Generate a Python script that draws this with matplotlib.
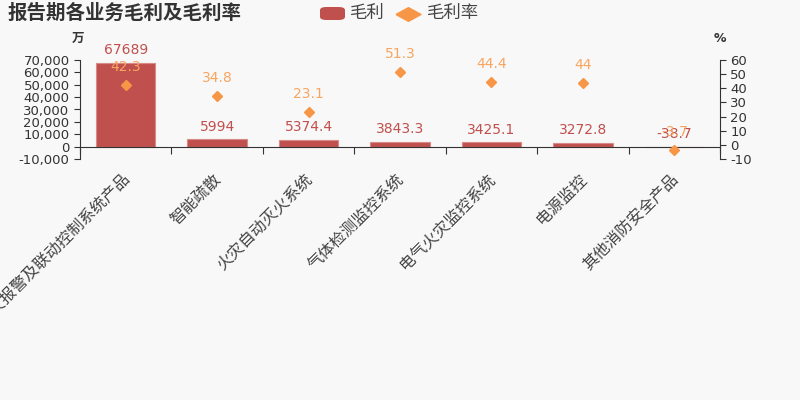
import matplotlib
matplotlib.use('Agg')
import matplotlib.pyplot as plt
import matplotlib.transforms as mtransforms
from matplotlib.patches import FancyBboxPatch
from matplotlib.lines import Line2D

plt.rcParams['font.family'] = ['Noto Sans CJK SC', 'DejaVu Sans']

categories = ['火灾报警及联动控制系统产品', '智能疏散', '火灾自动灭火系统', '气体检测监控系统',
              '电气火灾监控系统', '电源监控', '其他消防安全产品']
profit = [67689, 5994, 5374.4, 3843.3, 3425.1, 3272.8, -38.7]
rate = [42.3, 34.8, 23.1, 51.3, 44.4, 44, -3.7]
profit_labels = ['67689', '5994', '5374.4', '3843.3', '3425.1', '3272.8', '-38.7']
rate_labels = ['42.3', '34.8', '23.1', '51.3', '44.4', '44', '-3.7']

BG = '#f8f8f8'
RED = '#c0504d'
ORANGE = '#f79646'
ORANGE_TXT = '#f8a55f'
AXIS = '#333333'

fig = plt.figure(figsize=(8, 4), dpi=100, facecolor=BG)
ax = fig.add_axes([0.1, 0.6025, 0.8, 0.2475], facecolor=BG)
ax2 = ax.twinx()

x = list(range(len(categories)))
ax.bar(x, profit, width=0.65, color=RED, edgecolor='#d88a88', linewidth=0.8, zorder=2)
ax2.plot(x, rate, linestyle='none', marker='D', markersize=5.5, color=ORANGE, zorder=3)

for xi, v, lab in zip(x, profit, profit_labels):
    ax.annotate(lab, (xi, max(v, 0)), xytext=(0, 9), textcoords='offset points',
                ha='center', va='center', fontsize=10, color=RED, family='DejaVu Sans')
for xi, v, lab in zip(x, rate, rate_labels):
    ax2.annotate(lab, (xi, v), xytext=(0, 13), textcoords='offset points',
                 ha='center', va='center', fontsize=10, color=ORANGE_TXT, family='DejaVu Sans')

ax.set_xlim(-0.5, len(categories) - 0.5)
ax.set_ylim(-10000, 70000)
ax.set_yticks(range(-10000, 70001, 10000))
ax.set_yticklabels([f'{v:,}' for v in range(-10000, 70001, 10000)], family='DejaVu Sans')
ax2.set_ylim(-10, 60)
ax2.set_yticks(range(-10, 61, 10))
ax2.set_yticklabels([str(v) for v in range(-10, 61, 10)], family='DejaVu Sans')

# category boundaries as ticks, names drawn below the axes
ax.set_xticks([i - 0.5 for i in range(len(categories) + 1)])
ax.set_xticklabels([])
ax.tick_params(axis='x', which='major', length=5, color=AXIS, direction='out')
trans = mtransforms.blended_transform_factory(ax.transData, fig.transFigure)
for xi, name in zip(x, categories):
    ax.text(xi + 0.02, 1 - 177 / 400, name, transform=trans, rotation=45,
            rotation_mode='anchor', ha='right', va='center', fontsize=11.5,
            color='#444444', clip_on=False)

for a in (ax, ax2):
    a.spines['top'].set_visible(False)
    a.tick_params(axis='y', labelsize=9.5, labelcolor=AXIS, color=AXIS, length=4)
ax.spines['right'].set_visible(False)
ax2.spines['left'].set_visible(False)
ax2.spines['bottom'].set_visible(False)
ax.spines['bottom'].set_position(('data', 0))
ax.spines['bottom'].set_color(AXIS)
ax.spines['left'].set_color(AXIS)
ax2.spines['right'].set_color(AXIS)

fig.text(0.1 - 0.003, 0.905, '万', fontsize=9, ha='center', va='center', color=AXIS, weight='bold')
fig.text(0.9, 0.905, '%', fontsize=9, ha='center', va='center', color=AXIS, weight='bold',
         family='DejaVu Sans')

fig.text(0.01, 0.967, '报告期各业务毛利及毛利率', fontsize=14, weight='bold', ha='left',
         va='center', color='#333333')

# legend
box = FancyBboxPatch((320 / 800, 1 - 20 / 400), 25 / 800, 13 / 400,
                     boxstyle='round,pad=0,rounding_size=0.008', transform=fig.transFigure,
                     facecolor=RED, edgecolor='none')
fig.patches.append(box)
fig.text(350 / 800, 0.967, '毛利', fontsize=12.5, ha='left', va='center', color='#444444')
wide_diamond = [(-1, 0), (0, 0.55), (1, 0), (0, -0.55), (-1, 0)]
fig.lines.append(Line2D([408 / 800], [1 - 14 / 400], marker=wide_diamond, markersize=18,
                        color=ORANGE, transform=fig.transFigure, linestyle='none'))
fig.text(427 / 800, 0.967, '毛利率', fontsize=12.5, ha='left', va='center', color='#444444')

fig.savefig('out.png', dpi=100, facecolor=BG)
